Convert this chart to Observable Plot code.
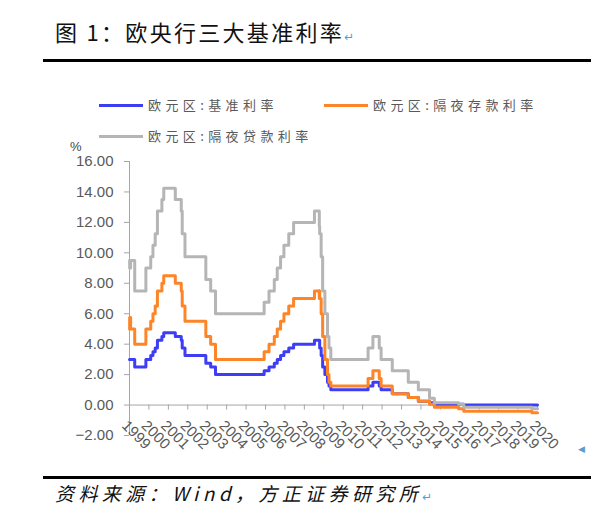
<!DOCTYPE html>
<html><head><meta charset="utf-8">
<script src="https://cdn.jsdelivr.net/npm/d3@7"></script>
<script src="https://cdn.jsdelivr.net/npm/@observablehq/plot@0.6"></script>
<style>
body{margin:0;background:#fff;}
#wrap{position:relative;width:600px;height:525px;overflow:hidden;font-family:"Noto Sans CJK SC",sans-serif;background:#fff;}
.abs{position:absolute;white-space:nowrap;}
.ret{color:#5b9bd5;font-family:"DejaVu Sans",sans-serif;font-style:normal;letter-spacing:0;}
#chart{position:absolute;left:0;top:130px;}
</style></head><body><div id="wrap">
<div class="abs" style="left:55px;top:17px;font-size:22px;line-height:28px;letter-spacing:2.3px;color:#111;">图 1：欧央行三大基准利率<span class="ret" style="font-size:12px;">↵</span></div>
<div class="abs" style="left:43px;top:59px;width:548px;height:3px;background:#000;"></div>
<div id="legend"></div>
<div class="abs" style="left:70px;top:139px;font-size:13px;line-height:16px;color:#444;font-family:'Liberation Sans',sans-serif;">%</div>
<div id="chart"></div>
<div class="abs" style="left:578px;top:444px;font-size:9px;color:#5b9bd5;font-family:'DejaVu Sans',sans-serif;">◀</div>
<div class="abs" style="left:43px;top:476px;width:548px;height:3px;background:#000;"></div>
<div class="abs" style="left:55px;top:481px;font-size:19px;line-height:24px;letter-spacing:4.4px;color:#111;font-style:italic;">资料来源：Wind，方正证券研究所<span class="ret" style="font-size:12px;">↵</span></div>
</div>
<script>
// ECB rates at each change date (stacked line chart, as in the original)
const dates = ["1999-01-01","1999-01-04","1999-01-22","1999-04-09","1999-11-05","2000-02-04","2000-03-17","2000-04-28","2000-06-09","2000-09-01",
"2000-10-06","2001-05-11","2001-08-31","2001-09-18","2001-11-09","2002-12-06","2003-03-07","2003-06-06","2005-12-06","2006-03-08",
"2006-06-15","2006-08-09","2006-10-11","2006-12-13","2007-03-14","2007-06-13","2008-07-09","2008-10-08","2008-10-09","2008-10-15",
"2008-11-12","2008-12-10","2009-01-21","2009-03-11","2009-04-08","2009-05-13","2011-04-13","2011-07-13","2011-11-09","2011-12-14",
"2012-07-11","2013-05-08","2013-11-13","2014-06-11","2014-09-10","2015-12-09","2016-03-16","2019-09-18","2020-01-01"];
const mainRate = [3.00,3.00,3.00,2.50,3.00,3.25,3.50,3.75,4.25,4.50,
4.75,4.50,4.25,3.75,3.25,2.75,2.50,2.00,2.25,2.50,
2.75,3.00,3.25,3.50,3.75,4.00,4.25,4.25,4.25,3.75,
3.25,2.50,2.00,1.50,1.25,1.00,1.25,1.50,1.25,1.00,
0.75,0.50,0.25,0.15,0.05,0.05,0.00,0.00,0.00];
const depositRate = [2.00,2.75,2.00,1.50,2.00,2.25,2.50,2.75,3.25,3.50,
3.75,3.50,3.25,2.75,2.25,1.75,1.50,1.00,1.25,1.50,
1.75,2.00,2.25,2.50,2.75,3.00,3.25,2.75,3.25,3.25,
2.75,2.00,1.00,0.50,0.25,0.25,0.50,0.75,0.50,0.25,
0.00,0.00,0.00,-0.10,-0.20,-0.30,-0.40,-0.50,-0.50];
const lendingRate = [4.50,3.25,4.50,3.50,4.00,4.25,4.50,4.75,5.25,5.50,
5.75,5.50,5.25,4.75,4.25,3.75,3.50,3.00,3.25,3.50,
3.75,4.00,4.25,4.50,4.75,5.00,5.25,4.75,4.25,4.25,
3.75,3.00,3.00,2.50,2.25,1.75,2.00,2.25,2.00,1.75,
1.50,1.00,0.75,0.40,0.30,0.30,0.25,0.25,0.25];
const seriesNames = ["欧元区:基准利率","欧元区:隔夜存款利率","欧元区:隔夜贷款利率"];
const seriesColors = ["#3d3df5","#fd8528","#b5b5b5"];
const yTicks = [-2,0,2,4,6,8,10,12,14,16];
const yearLabels = d3.range(1999, 2021);

const parse = d3.utcParse("%Y-%m-%d");
const rows = [];
dates.forEach((d, i) => {
  const a = mainRate[i], b = a + depositRate[i], c = b + lendingRate[i];
  rows.push({date: parse(d), key: seriesNames[0], value: a});
  rows.push({date: parse(d), key: seriesNames[1], value: b});
  rows.push({date: parse(d), key: seriesNames[2], value: c});
});
const years = yearLabels.map(y => new Date(Date.UTC(y, 0, 1)));
const x0 = years[0], x1 = years[years.length - 1];

// legend
const leg = document.getElementById("legend");
const legPos = [[99, 97], [324, 97], [99, 128]];
seriesNames.forEach((n, i) => {
  const [lx, ly] = legPos[i];
  leg.insertAdjacentHTML("beforeend",
    `<div class="abs" style="left:${lx}px;top:${ly + 7}px;width:44px;height:3px;background:${seriesColors[i]};"></div>` +
    `<div class="abs" style="left:${lx + 49}px;top:${ly}px;font-size:13px;line-height:16px;letter-spacing:4.4px;color:#595959;">${n}</div>`);
});

const chart = Plot.plot({
  width: 600, height: 340,
  marginLeft: 129, marginRight: 63, marginTop: 31, marginBottom: 35,
  style: {fontFamily: "'Liberation Sans', Arial, sans-serif", fontSize: "15px", color: "#595959", background: "transparent"},
  x: {type: "utc", domain: [x0, x1], axis: null},
  y: {domain: [-2, 16], axis: null},
  marks: [
    Plot.axisY({ticks: yTicks, tickFormat: d3.format(".2f"), tickSize: 5, tickPadding: 11, stroke: "#a6a6a6", fill: "#595959", fontSize: 15, label: null}),
    Plot.ruleX([x0], {y1: -2, y2: 16, stroke: "#a6a6a6"}),
    Plot.ruleY([0], {stroke: "#a6a6a6"}),
    Plot.ruleX(years, {x: d => d, y1: 0, y2: -0.33, stroke: "#a6a6a6"}),
    Plot.text(years, {x: d => d, y: 0, text: d => String(d.getUTCFullYear()), rotate: 45, textAnchor: "start", dx: -5, dy: 18, fill: "#595959", fontSize: 15}),
    Plot.line(rows.filter(r => r.key === seriesNames[0]), {x: "date", y: "value", stroke: seriesColors[0], strokeWidth: 3, curve: "step-after"}),
    Plot.line(rows.filter(r => r.key === seriesNames[1]), {x: "date", y: "value", stroke: seriesColors[1], strokeWidth: 3, curve: "step-after"}),
    Plot.line(rows.filter(r => r.key === seriesNames[2]), {x: "date", y: "value", stroke: seriesColors[2], strokeWidth: 3, curve: "step-after"})
  ]
});
document.getElementById("chart").appendChild(chart);
</script>
</body></html>
